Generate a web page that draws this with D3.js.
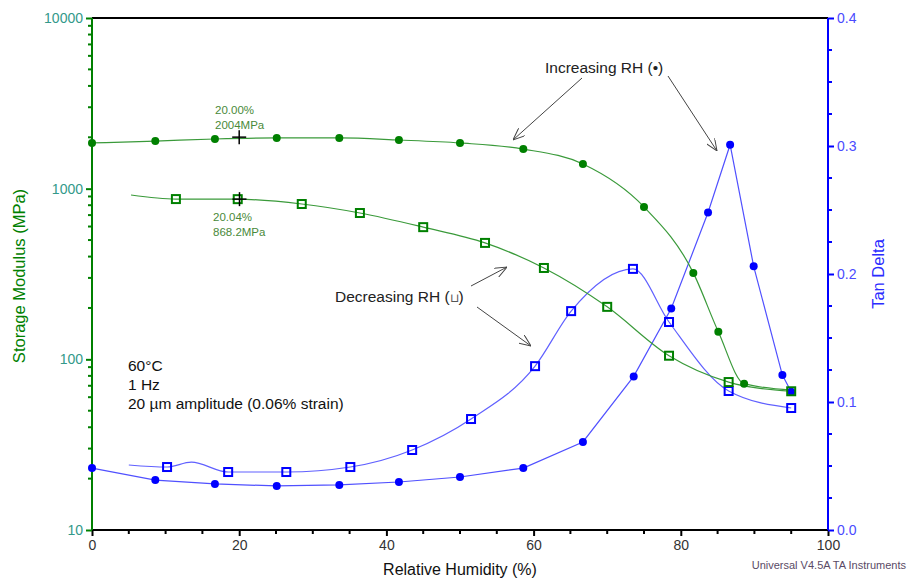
<!DOCTYPE html>
<html>
<head>
  <meta charset="utf-8">
  <script src="https://d3js.org/d3.v7.min.js"></script>
  <style>
    body { margin: 0; background: #fff; }
    text { font-family: "Liberation Sans", Arial, sans-serif; }
  </style>
</head>
<body>
<div id="vis"></div>
<script>
  // storage modulus, increasing RH (filled circles)
  var smIncRH = [0, 8.6, 16.7, 25.1, 33.6, 41.7, 50.0, 58.6, 66.7, 75.0, 81.7, 85.1, 88.6, 95.0];
  var smIncVal = [1853, 1900, 1954, 1982, 1982, 1928, 1853, 1706, 1395, 782, 321, 145, 72, 66];
  var smIncMark = 13; // markers on first 13 points

  // storage modulus, decreasing RH (open squares)
  var smDecRH = [5.3, 11.4, 19.8, 28.5, 36.4, 45.0, 53.4, 61.4, 70.0, 78.4, 86.5, 95.0];
  var smDecVal = [918, 869, 868, 813, 720, 595, 481, 343, 203, 105, 73.6, 65];

  // tan delta, increasing RH (filled circles)
  var tdIncRH = [0, 8.6, 16.7, 25.1, 33.6, 41.7, 50.0, 58.6, 66.7, 73.6, 78.7, 83.7, 86.7, 89.9, 93.8, 95.0];
  var tdIncVal = [0.0484, 0.039, 0.036, 0.0344, 0.0352, 0.0375, 0.0414, 0.0484, 0.0688, 0.120, 0.173, 0.248, 0.301, 0.206, 0.121, 0.108];

  // tan delta, decreasing RH (open squares)
  var tdDecRH = [5.0, 10.2, 13.5, 18.5, 26.4, 35.1, 43.5, 51.5, 60.2, 65.1, 73.5, 78.4, 86.5, 95.0];
  var tdDecVal = [0.0508, 0.0492, 0.053, 0.0453, 0.0453, 0.0492, 0.0625, 0.0867, 0.128, 0.171, 0.204, 0.1625, 0.1086, 0.0953];
  var tdDecSkip = [0, 2]; // line-only points

  var xTicks = [0, 20, 40, 60, 80, 100];
  var yLeftTicks = [10, 100, 1000, 10000];
  var yRightTicks = [0.0, 0.1, 0.2, 0.3, 0.4];

  var W = 908, H = 580;
  var x0 = 92, x1 = 828, yTop = 18, yBot = 530;

  var svg = d3.select('#vis').append('svg').attr('width', W).attr('height', H);

  var x = d3.scaleLinear().domain([0, 100]).range([x0, x1]);
  var yL = d3.scaleLog().domain([10, 10000]).range([yBot, yTop]);
  var yR = d3.scaleLinear().domain([0, 0.4]).range([yBot, yTop]);

  var green = '#008000', blue = '#0000ff';

  // frame top
  svg.append('line').attr('x1', x0).attr('x2', x1).attr('y1', yTop).attr('y2', yTop)
    .attr('stroke', '#000').attr('stroke-width', 2);

  // bottom axis
  var minorX = d3.range(0, 101, 5).filter(d => d % 20 !== 0);
  var gx = svg.append('g').attr('transform', 'translate(0,' + yBot + ')');
  gx.call(d3.axisBottom(x).tickValues(xTicks).tickSize(6).tickPadding(4).tickFormat(d3.format('d')));
  gx.selectAll('.tick line').attr('stroke', '#000').attr('stroke-width', 2);
  gx.selectAll('text').attr('fill', '#333').style('font-size', '14px');
  gx.selectAll('.minor').data(minorX).enter().append('line')
    .attr('x1', d => x(d)).attr('x2', d => x(d)).attr('y1', 0).attr('y2', 4)
    .attr('stroke', '#000').attr('stroke-width', 2);

  // left axis
  var minorL = [];
  [10, 100, 1000].forEach(function (b) { for (var k = 2; k <= 9; k++) minorL.push(b * k); });
  var gl = svg.append('g').attr('transform', 'translate(' + x0 + ',0)');
  gl.call(d3.axisLeft(yL).tickValues(yLeftTicks).tickSize(6).tickPadding(3).tickFormat(d3.format('d')));
  gl.selectAll('.tick line').attr('stroke', green).attr('stroke-width', 2);
  gl.selectAll('text').attr('fill', '#33998a').style('font-size', '14px');
  gl.selectAll('.minor').data(minorL).enter().append('line')
    .attr('x1', 0).attr('x2', -4).attr('y1', d => yL(d)).attr('y2', d => yL(d))
    .attr('stroke', green).attr('stroke-width', 2);

  // right axis
  var minorR = d3.range(0, 0.4001, 0.025).filter(d => Math.abs(d * 10 - Math.round(d * 10)) > 1e-6);
  var gr = svg.append('g').attr('transform', 'translate(' + x1 + ',0)');
  gr.call(d3.axisRight(yR).tickValues(yRightTicks).tickSize(6).tickPadding(3).tickFormat(d3.format('.1f')));
  gr.selectAll('.tick line').attr('stroke', blue).attr('stroke-width', 2);
  gr.selectAll('text').attr('fill', '#4a4aff').style('font-size', '14px');
  gr.selectAll('.minor').data(minorR).enter().append('line')
    .attr('x1', 0).attr('x2', 4).attr('y1', d => yR(d)).attr('y2', d => yR(d))
    .attr('stroke', blue).attr('stroke-width', 2);

  // plain axis lines instead of domain paths
  gx.select('.domain').remove();
  gl.select('.domain').remove();
  gr.select('.domain').remove();
  svg.append('line').attr('x1', x0).attr('x2', x1).attr('y1', yBot).attr('y2', yBot).attr('stroke', '#000').attr('stroke-width', 2);
  svg.append('line').attr('x1', x0).attr('x2', x0).attr('y1', yTop).attr('y2', yBot).attr('stroke', green).attr('stroke-width', 2);
  svg.append('line').attr('x1', x1).attr('x2', x1).attr('y1', yTop).attr('y2', yBot).attr('stroke', blue).attr('stroke-width', 2);

  // axis titles
  svg.append('text').attr('x', 460).attr('y', 575).attr('text-anchor', 'middle')
    .style('font-size', '16px').attr('fill', '#111').text('Relative Humidity (%)');
  svg.append('text').attr('transform', 'translate(25,276) rotate(-90)').attr('text-anchor', 'middle')
    .style('font-size', '16.5px').attr('fill', green).text('Storage Modulus (MPa)');
  svg.append('text').attr('transform', 'translate(884,274) rotate(-90)').attr('text-anchor', 'middle')
    .style('font-size', '16.5px').attr('fill', '#2b2bff').text('Tan Delta');

  // series
  function series(rh, val, yS, lineColor, curve) {
    var pts = rh.map((d, i) => [d, val[i]]);
    svg.append('path').datum(pts)
      .attr('d', d3.line().x(d => x(d[0])).y(d => yS(d[1])).curve(curve))
      .attr('fill', 'none').attr('stroke', lineColor).attr('stroke-width', 1.2);
    return pts;
  }
  function circles(pts, yS, color) {
    svg.append('g').selectAll('circle').data(pts).enter().append('circle')
      .attr('cx', d => x(d[0])).attr('cy', d => yS(d[1])).attr('r', 4).attr('fill', color);
  }
  function squares(pts, yS, color) {
    svg.append('g').selectAll('rect').data(pts).enter().append('rect')
      .attr('x', d => x(d[0]) - 4).attr('y', d => yS(d[1]) - 4).attr('width', 8).attr('height', 8)
      .attr('fill', 'none').attr('stroke', color).attr('stroke-width', 2);
  }

  var p1 = series(tdIncRH, tdIncVal, yR, '#5050ff', d3.curveLinear);
  var p2 = series(tdDecRH, tdDecVal, yR, '#6060ff', d3.curveMonotoneX);
  var p3 = series(smIncRH, smIncVal, yL, '#3a9a3a', d3.curveMonotoneX);
  var p4 = series(smDecRH, smDecVal, yL, '#3a9a3a', d3.curveMonotoneX);

  circles(p1, yR, blue);
  squares(p2.filter((d, i) => tdDecSkip.indexOf(i) < 0), yR, blue);
  circles(p3.slice(0, smIncMark), yL, green);
  squares(p4.slice(1), yL, green);

  // cursor crosses
  function cross(cx, cy) {
    svg.append('line').attr('x1', cx - 7).attr('x2', cx + 7).attr('y1', cy).attr('y2', cy).attr('stroke', '#000').attr('stroke-width', 1.5);
    svg.append('line').attr('x1', cx).attr('x2', cx).attr('y1', cy - 7).attr('y2', cy + 7).attr('stroke', '#000').attr('stroke-width', 1.5);
  }
  cross(x(20.0), yL(2004));
  cross(x(20.04), yL(868.2));
  var lab = svg.append('g').style('font-size', '11.5px').attr('fill', '#4a8a3a');
  lab.append('text').attr('x', 215).attr('y', 114).text('20.00%');
  lab.append('text').attr('x', 215).attr('y', 129).text('2004MPa');
  lab.append('text').attr('x', 213).attr('y', 221).text('20.04%');
  lab.append('text').attr('x', 213).attr('y', 236).text('868.2MPa');

  // annotations
  svg.append('defs').append('marker').attr('id', 'ah').attr('viewBox', '0 0 12 10')
    .attr('refX', 12).attr('refY', 5).attr('markerWidth', 12).attr('markerHeight', 10)
    .attr('markerUnits', 'userSpaceOnUse').attr('orient', 'auto')
    .append('path').attr('d', 'M0,0 L12,5 L0,10').attr('fill', 'none').attr('stroke', '#444').attr('stroke-width', 1);
  function arrow(ax, ay, bx, by) {
    svg.append('line').attr('x1', ax).attr('y1', ay).attr('x2', bx).attr('y2', by)
      .attr('stroke', '#444').attr('stroke-width', 1).attr('marker-end', 'url(#ah)');
  }
  svg.append('text').attr('x', 545).attr('y', 73).style('font-size', '15.5px').attr('fill', '#222').text('Increasing RH (•)');
  arrow(582, 78, 513, 140);
  arrow(668, 76, 717, 151);
  var dec = svg.append('text').attr('x', 335).attr('y', 302).style('font-size', '15.5px').attr('fill', '#222');
  dec.append('tspan').text('Decreasing RH (');
  dec.append('tspan').style('font-size', '12px').attr('fill', '#555').text('⊔');
  dec.append('tspan').text(')');
  arrow(471, 286, 507, 267);
  arrow(477, 307, 531, 346);

  var info = svg.append('g').style('font-size', '15.5px').attr('fill', '#111');
  info.append('text').attr('x', 128).attr('y', 371).text('60°C');
  info.append('text').attr('x', 128).attr('y', 390).text('1 Hz');
  info.append('text').attr('x', 128).attr('y', 409).text('20 µm amplitude (0.06% strain)');

  svg.append('text').attr('x', 906).attr('y', 569).attr('text-anchor', 'end')
    .style('font-size', '11px').attr('fill', '#5a4a66').text('Universal V4.5A TA Instruments');
</script>
</body>
</html>
